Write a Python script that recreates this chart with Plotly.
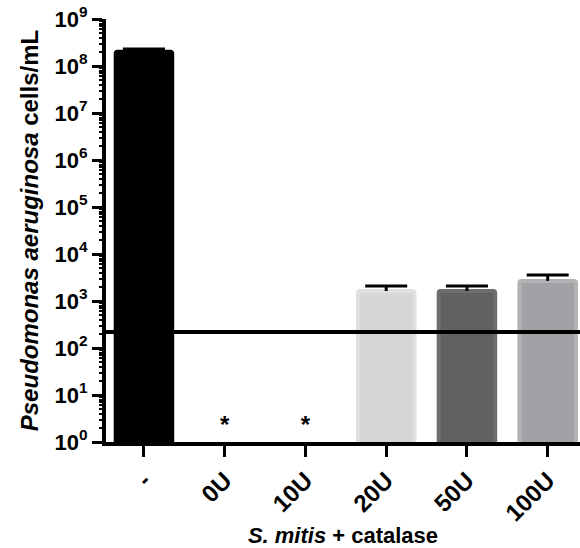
import plotly.graph_objects as go

categories = ["-", "0U", "10U", "20U", "50U", "100U"]
cell_counts = [2.0e8, None, None, 1.63e3, 1.63e3, 2.68e3]
error_upper = [3.0e7, None, None, 4.6e2, 4.6e2, 8.8e2]
fill_colors = ["#000000", "#ffffff", "#ffffff", "#d6d6d6", "#616161", "#a2a2a6"]
edge_colors = ["#000000", "#ffffff", "#ffffff", "#e0e0e0", "#6e6e6e", "#b3b3b3"]
asterisk_cats = [1, 2]
asterisk_y = [2.1, 2.1]
detection_limit = 220
ytick_vals = [10 ** k for k in range(0, 10)]
ytick_text = ["10<sup>%d</sup>" % k for k in range(0, 10)]
minor_vals = [m * 10 ** k for k in range(0, 9) for m in range(2, 10)]

FONT = "Liberation Sans, Arial, sans-serif"
xs = list(range(len(categories)))

fig = go.Figure()
fig.add_trace(go.Bar(
    x=xs, y=cell_counts, width=0.70,
    marker=dict(color=fill_colors, line=dict(color=edge_colors, width=4)),
    showlegend=False,
))

# upper error bars: stems and caps built from the data arrays
stem_x, stem_y, cap_x, cap_y = [], [], [], []
for x, v, e in zip(xs, cell_counts, error_upper):
    if v is None or e is None:
        continue
    stem_x += [x, x, None]
    stem_y += [v, v + e, None]
    cap_x.append(x)
    cap_y.append(v + e)
fig.add_trace(go.Scatter(x=stem_x, y=stem_y, mode="lines",
                         line=dict(color="#000000", width=3), showlegend=False))
fig.add_trace(go.Scatter(x=cap_x, y=cap_y, mode="markers",
                         marker=dict(symbol="line-ew", size=30,
                                     line=dict(color="#000000", width=3)),
                         showlegend=False))

# asterisks live on the overlay axis (same range) that carries the minor ticks
fig.add_trace(go.Scatter(
    x=asterisk_cats, y=asterisk_y, mode="text", text=["*", "*"], yaxis="y2",
    textfont=dict(family=FONT, size=24, color="#000000"),
    textposition="middle center", showlegend=False,
))
fig.add_shape(type="line", xref="paper", yref="y", x0=0, x1=1,
              y0=detection_limit, y1=detection_limit,
              line=dict(color="#000000", width=4))

fig.update_layout(
    width=580, height=548,
    margin=dict(l=106, r=0, t=19, b=106),
    paper_bgcolor="#ffffff", plot_bgcolor="#ffffff",
    font=dict(family=FONT, size=20, color="#000000", weight="bold"),
    barcornerradius=2,
    xaxis=dict(
        range=[-0.47, 5.40], tickmode="array", tickvals=xs, ticktext=categories,
        tickangle=-45, automargin=False,
        showline=True, linecolor="#000000", linewidth=4, showgrid=False, zeroline=False,
        ticks="outside", ticklen=11, tickwidth=3, tickcolor="#000000",
        tickfont=dict(family=FONT, size=24, weight="bold"),
        title=dict(text="<i>S. mitis</i> + catalase",
                   font=dict(family=FONT, size=22, weight="bold"), standoff=22),
    ),
    yaxis=dict(
        type="log", range=[0, 9], tickmode="array", tickvals=ytick_vals, ticktext=ytick_text,
        automargin=False,
        showline=True, linecolor="#000000", linewidth=4, showgrid=False, zeroline=False,
        ticks="outside", ticklen=10, tickwidth=3, tickcolor="#000000",
        tickfont=dict(family=FONT, size=22, weight="bold"),
        title=dict(text="<i>Pseudomonas aeruginosa</i> cells/mL",
                   font=dict(family=FONT, size=24, weight="bold"), standoff=10),
    ),
    yaxis2=dict(
        type="log", range=[0, 9], overlaying="y", side="left", anchor="x",
        tickmode="array", tickvals=minor_vals, showticklabels=False,
        ticks="outside", ticklen=6, tickwidth=2, tickcolor="#000000",
        showline=False, showgrid=False, zeroline=False, automargin=False,
    ),
)

fig.write_html("out.html")
